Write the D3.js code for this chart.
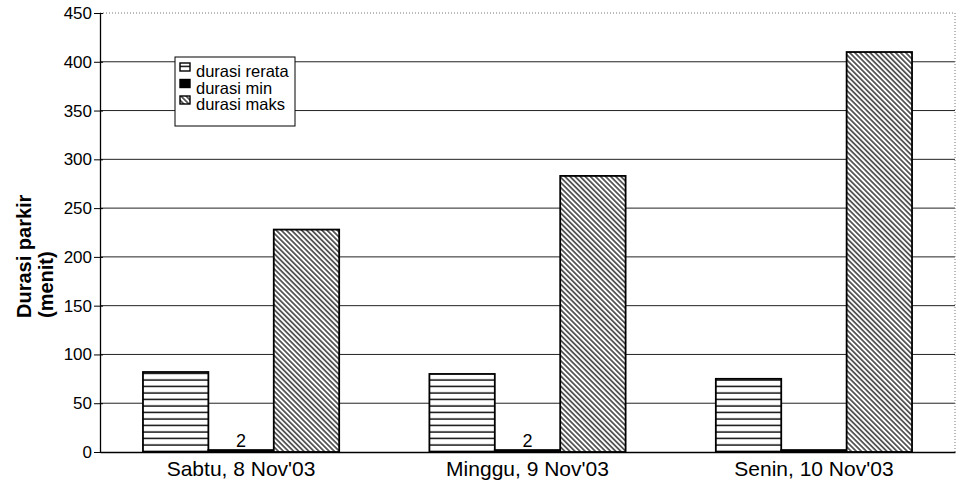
<!DOCTYPE html>
<html>
<head>
<meta charset="utf-8">
<script src="https://cdn.jsdelivr.net/npm/d3@7"></script>
<style>
  body { margin: 0; background: #fff; }
  text { font-family: "Liberation Sans", Arial, sans-serif; }
</style>
</head>
<body>
<div id="chart"></div>
<script>
// data
var categories = ["Sabtu, 8 Nov'03", "Minggu, 9 Nov'03", "Senin, 10 Nov'03"];
var seriesNames = ["durasi rerata", "durasi min", "durasi maks"];
var rerata = [82, 80, 75];
var minimum = [2, 2, 2];
var maks = [228, 283, 410];
var minLabels = ["2", "2", ""];
var yTicks = [0, 50, 100, 150, 200, 250, 300, 350, 400, 450];

var W = 957, H = 503;
var margin = {top: 13, right: 2, bottom: 51, left: 100},
    width = W - margin.left - margin.right,
    height = H - margin.top - margin.bottom;

var svg = d3.select("#chart").append("svg")
    .attr("width", W).attr("height", H);

// hatch patterns
var defs = svg.append("defs");
var pH = defs.append("pattern").attr("id", "hatchH")
    .attr("patternUnits", "userSpaceOnUse").attr("width", 8).attr("height", 6.5);
pH.append("rect").attr("width", 8).attr("height", 6.5).attr("fill", "#fff");
pH.append("line").attr("x1", 0).attr("x2", 8).attr("y1", 3).attr("y2", 3)
    .attr("stroke", "#000").attr("stroke-width", 1.4);

var pD = defs.append("pattern").attr("id", "hatchD")
    .attr("patternUnits", "userSpaceOnUse").attr("width", 3.6).attr("height", 3.6)
    .attr("patternTransform", "rotate(45)");
pD.append("rect").attr("width", 3.6).attr("height", 3.6).attr("fill", "#fff");
pD.append("line").attr("x1", 0).attr("x2", 3.6).attr("y1", 1.8).attr("y2", 1.8)
    .attr("stroke", "#000").attr("stroke-width", 1.2);

var fills = ["url(#hatchH)", "#000", "url(#hatchD)"];

var g = svg.append("g")
    .attr("transform", "translate(" + margin.left + "," + margin.top + ")");

var x0 = d3.scaleBand().domain(categories).range([0, width]).paddingInner(0.315).paddingOuter(0.15);
var x1 = d3.scaleBand().domain(seriesNames).range([0, x0.bandwidth()]);
var y = d3.scaleLinear().domain([0, 450]).range([height, 0]);

// gridlines
g.selectAll("line.grid")
  .data(yTicks.filter(function(d) { return d > 0 && d < 450; }))
  .enter().append("line")
    .attr("class", "grid")
    .attr("x1", 0).attr("x2", width)
    .attr("y1", function(d) { return y(d); })
    .attr("y2", function(d) { return y(d); })
    .attr("stroke", "#222").attr("stroke-width", 1);

// dotted top and right frame
g.append("line").attr("x1", 0).attr("x2", width).attr("y1", y(450)).attr("y2", y(450))
    .attr("stroke", "#777").attr("stroke-dasharray", "1,2");
g.append("line").attr("x1", width).attr("x2", width).attr("y1", y(450)).attr("y2", height)
    .attr("stroke", "#777").attr("stroke-dasharray", "1,2");

// bars
var rows = categories.map(function(c, i) {
  return {cat: c, vals: [rerata[i], minimum[i], maks[i]], lab: minLabels[i]};
});

var groups = g.selectAll("g.grp").data(rows).enter().append("g")
    .attr("class", "grp")
    .attr("transform", function(d) { return "translate(" + x0(d.cat) + ",0)"; });

groups.selectAll("rect")
  .data(function(d) { return d.vals.map(function(v, j) { return {s: seriesNames[j], v: v, j: j}; }); })
  .enter().append("rect")
    .attr("x", function(d) { return x1(d.s); })
    .attr("y", function(d) { return y(d.v); })
    .attr("width", x1.bandwidth())
    .attr("height", function(d) { return height - y(d.v); })
    .attr("fill", function(d) { return fills[d.j]; })
    .attr("stroke", "#000").attr("stroke-width", 1.8);

// data labels on min bars
groups.append("text")
    .attr("x", x1("durasi min") + x1.bandwidth() / 2)
    .attr("y", function(d, i) { return y(minimum[i]) - 3; })
    .attr("text-anchor", "middle")
    .attr("font-size", "18px")
    .text(function(d) { return d.lab; });

// y axis
var yAxis = g.append("g")
    .call(d3.axisLeft(y).tickValues(yTicks).tickSize(6).tickSizeOuter(0).tickPadding(2));
yAxis.select(".domain").attr("stroke", "#000").attr("stroke-width", 1.3);
yAxis.selectAll(".tick line").attr("stroke", "#000").attr("x2", -6).attr("x1", 3);
yAxis.selectAll(".tick text").attr("font-size", "17px").attr("fill", "#000")
    .attr("font-family", "Liberation Sans, Arial, sans-serif");

// x axis
var xAxis = g.append("g")
    .attr("transform", "translate(0," + height + ")")
    .call(d3.axisBottom(x0).tickSize(0).tickPadding(9));
xAxis.select(".domain").attr("stroke", "#000").attr("stroke-width", 1.5);
xAxis.selectAll(".tick text").attr("font-size", "21px").attr("fill", "#000")
    .attr("font-family", "Liberation Sans, Arial, sans-serif");

// y axis title
var yt = svg.append("text")
    .attr("transform", "translate(31,318) rotate(-90)")
    .attr("text-anchor", "start")
    .attr("font-size", "20px").attr("font-weight", "bold");
yt.append("tspan").attr("x", 0).attr("dy", 0).text("Durasi parkir");
yt.append("tspan").attr("x", 0).attr("dy", 22).text("(menit)");

// legend
var lg = svg.append("g").attr("transform", "translate(175,57)");
lg.append("rect").attr("width", 120).attr("height", 69)
    .attr("fill", "#fff").attr("stroke", "#000").attr("stroke-width", 1);
seriesNames.forEach(function(s, i) {
  lg.append("rect").attr("x", 5).attr("y", 6 + i * 16.5).attr("width", 10).attr("height", 8)
      .attr("fill", fills[i]).attr("stroke", "#000").attr("stroke-width", 1.4);
  lg.append("text").attr("x", 21).attr("y", 20 + i * 16.5)
      .attr("font-size", "16.5px").text(s);
});
</script>
</body>
</html>
